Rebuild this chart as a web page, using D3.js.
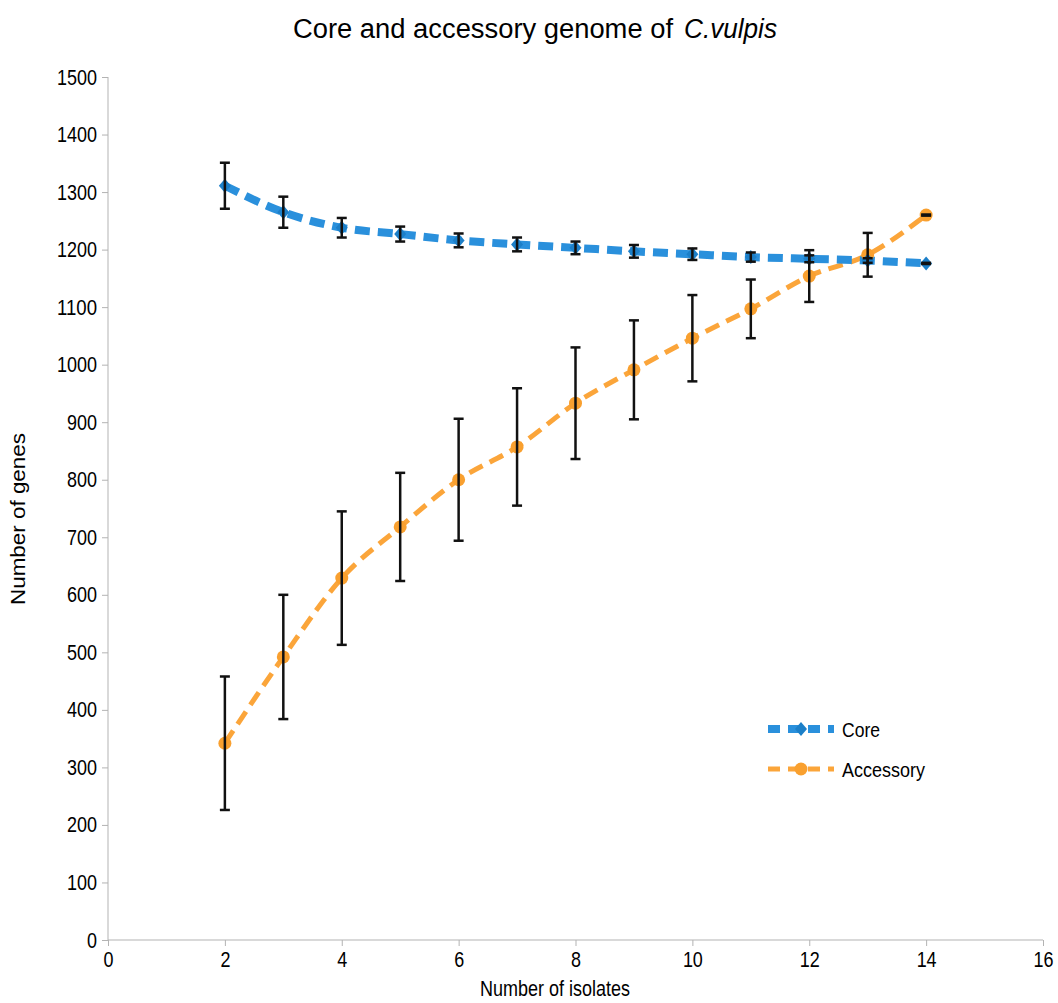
<html>
<head>
<script src="https://cdn.jsdelivr.net/npm/d3@7/dist/d3.min.js"></script>
<style>
body { margin: 0; background: #fff; }
.axis path, .axis line { stroke: #b3b3b3; }
.axis text { font-family: "Liberation Sans", sans-serif; font-size: 22px; fill: #000; }
</style>
</head>
<body>
<svg></svg>
<script>

var width = 1058;
var height = 1003;

// data
var isolates = [2, 3, 4, 5, 6, 7, 8, 9, 10, 11, 12, 13, 14];
var coreMean = [1311, 1265, 1238, 1227, 1216, 1209, 1203, 1197, 1192, 1187, 1184, 1181, 1176];
var coreErr  = [40, 27, 17, 13, 12, 12, 11, 11, 10, 8, 6, 4, 1];
var accMean  = [342, 492, 629, 718, 800, 857, 933, 991, 1046, 1097, 1154, 1191, 1260];
var accErr   = [116, 108, 116, 94, 106, 102, 97, 86, 75, 51, 45, 38, 1];
var xTicks = [0, 2, 4, 6, 8, 10, 12, 14, 16];
var yTicks = d3.range(0, 1501, 100);

var core = isolates.map(function(d, i) { return {x: d, y: coreMean[i], e: coreErr[i]}; });
var acc = isolates.map(function(d, i) { return {x: d, y: accMean[i], e: accErr[i]}; });

var svg = d3.select('svg').attr("width", width).attr("height", height);

var x = d3.scaleLinear().domain([0, 16]).range([108, 1043]);
var y = d3.scaleLinear().domain([0, 1500]).range([940, 77]);

// condensed look of the labels
function squeeze(sel) {
  sel.selectAll("text")
    .attr("textLength", function() { return this.textContent.length * 10; })
    .attr("lengthAdjust", "spacingAndGlyphs");
}

// axes
svg.append("g")
  .attr("class", "axis")
  .attr("transform", "translate(0,940)")
  .call(d3.axisBottom(x).tickValues(xTicks).tickFormat(d3.format("d")).tickSize(6).tickPadding(5))
  .call(function(g) { g.select(".domain").attr("d", "M108,0H1043"); })
  .call(squeeze);

svg.append("g")
  .attr("class", "axis")
  .attr("transform", "translate(108,0)")
  .call(d3.axisLeft(y).tickValues(yTicks).tickFormat(d3.format("d")).tickSize(6).tickPadding(5))
  .call(function(g) { g.select(".domain").attr("d", "M0,77V940"); })
  .call(squeeze);

var line = d3.line()
  .x(function(d) { return x(d.x); })
  .y(function(d) { return y(d.y); })
  .curve(d3.curveMonotoneX);

// accessory line
svg.append("path")
  .datum(acc)
  .attr("d", line)
  .attr("fill", "none")
  .attr("stroke", "#fba53a")
  .attr("stroke-width", 5)
  .attr("stroke-dasharray", "15,8");

// core line
svg.append("path")
  .datum(core)
  .attr("d", line)
  .attr("fill", "none")
  .attr("stroke", "#2a90dc")
  .attr("stroke-width", 8)
  .attr("stroke-dasharray", "15,8");

// markers
svg.selectAll(".acc-pt").data(acc).enter().append("circle")
  .attr("cx", function(d) { return x(d.x); })
  .attr("cy", function(d) { return y(d.y); })
  .attr("r", 6.5)
  .attr("fill", "#f9a02f");

svg.selectAll(".core-pt").data(core).enter().append("path")
  .attr("transform", function(d) { return "translate(" + x(d.x) + "," + y(d.y) + ")"; })
  .attr("d", "M0,-7L6,0L0,7L-6,0Z")
  .attr("fill", "#1c7fc8");

// error bars
function errorBars(data) {
  var g = svg.append("g").attr("stroke", "#111").attr("stroke-width", 2.5);
  g.selectAll("line.v").data(data).enter().append("line")
    .attr("x1", function(d) { return x(d.x); })
    .attr("x2", function(d) { return x(d.x); })
    .attr("y1", function(d) { return y(d.y + d.e); })
    .attr("y2", function(d) { return y(d.y - d.e); });
  g.selectAll("line.t").data(data).enter().append("line")
    .attr("x1", function(d) { return x(d.x) - 5; })
    .attr("x2", function(d) { return x(d.x) + 5; })
    .attr("y1", function(d) { return y(d.y + d.e); })
    .attr("y2", function(d) { return y(d.y + d.e); });
  g.selectAll("line.b").data(data).enter().append("line")
    .attr("x1", function(d) { return x(d.x) - 5; })
    .attr("x2", function(d) { return x(d.x) + 5; })
    .attr("y1", function(d) { return y(d.y - d.e); })
    .attr("y2", function(d) { return y(d.y - d.e); });
}
errorBars(core);
errorBars(acc);

// title, plain part and italic species name
svg.append("text")
  .attr("x", 293).attr("y", 38)
  .attr("textLength", 380)
  .attr("lengthAdjust", "spacingAndGlyphs")
  .style("font-family", "'Liberation Sans', sans-serif")
  .style("font-size", "27px")
  .text("Core and accessory genome of");
svg.append("text")
  .attr("x", 684).attr("y", 38)
  .attr("textLength", 93)
  .attr("lengthAdjust", "spacingAndGlyphs")
  .style("font-family", "'Liberation Sans', sans-serif")
  .style("font-style", "italic")
  .style("font-size", "27px")
  .text("C.vulpis");

// axis titles
svg.append("text")
  .attr("transform", "translate(25,519) rotate(-90)")
  .attr("text-anchor", "middle")
  .attr("textLength", 172)
  .attr("lengthAdjust", "spacingAndGlyphs")
  .style("font-family", "'Liberation Sans', sans-serif")
  .style("font-size", "20px")
  .text("Number of genes");

svg.append("text")
  .attr("x", 555).attr("y", 996)
  .attr("text-anchor", "middle")
  .attr("textLength", 150)
  .attr("lengthAdjust", "spacingAndGlyphs")
  .style("font-family", "'Liberation Sans', sans-serif")
  .style("font-size", "22px")
  .text("Number of isolates");

// legend
var legend = [
  {name: "Core", color: "#2a90dc", w: 8, y: 729, len: 38},
  {name: "Accessory", color: "#fba53a", w: 5, y: 769, len: 83}
];
legend.forEach(function(l) {
  svg.append("line")
    .attr("x1", 768).attr("x2", 834)
    .attr("y1", l.y).attr("y2", l.y)
    .attr("stroke", l.color)
    .attr("stroke-width", l.w)
    .attr("stroke-dasharray", "12,8");
  if (l.name == "Core") {
    svg.append("path")
      .attr("transform", "translate(801," + l.y + ")")
      .attr("d", "M0,-7L6,0L0,7L-6,0Z")
      .attr("fill", "#1c7fc8");
  } else {
    svg.append("circle").attr("cx", 801).attr("cy", l.y).attr("r", 6.5).attr("fill", "#f9a02f");
  }
  svg.append("text")
    .attr("x", 842).attr("y", l.y + 8)
    .attr("textLength", l.len)
    .attr("lengthAdjust", "spacingAndGlyphs")
    .style("font-family", "'Liberation Sans', sans-serif")
    .style("font-size", "21px")
    .text(l.name);
});

</script>
</body>
</html>
